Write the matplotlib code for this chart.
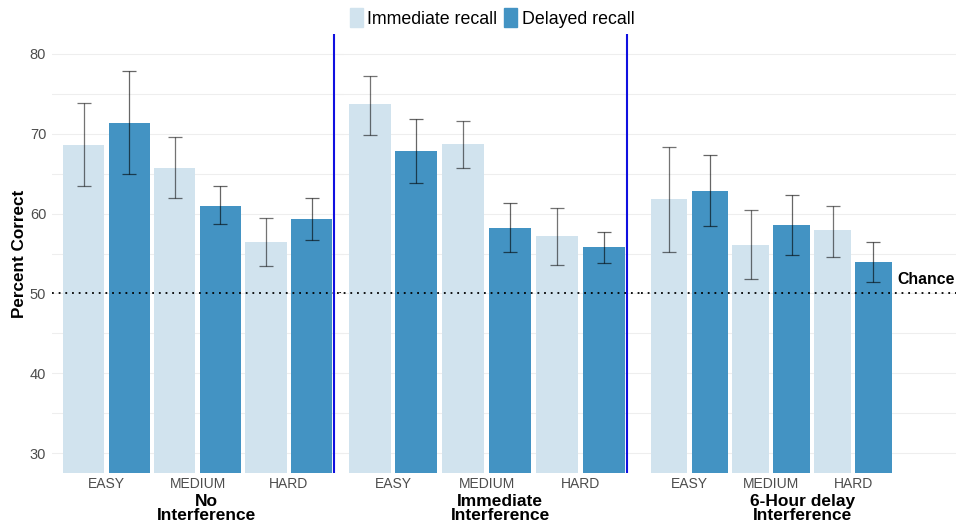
import numpy as np
import matplotlib
matplotlib.use('Agg')
import matplotlib.pyplot as plt
from matplotlib.patches import Patch

plt.rcParams['font.family'] = ['Liberation Sans', 'DejaVu Sans']

# data
levels = ['EASY', 'MEDIUM', 'HARD']
conditions = ['No\nInterference', 'Immediate\nInterference', '6-Hour delay\nInterference']
series_names = ['Immediate recall', 'Delayed recall']

immediate = [[68.6, 65.7, 56.4], [73.7, 68.7, 57.2], [61.8, 56.1, 57.9]]
immediate_lo = [[63.4, 61.9, 53.4], [69.85, 65.7, 53.5], [55.2, 51.8, 54.6]]
immediate_hi = [[73.8, 69.6, 59.4], [77.3, 71.6, 60.75], [68.3, 60.4, 61.0]]

delayed = [[71.4, 61.0, 59.3], [67.9, 58.2, 55.8], [62.8, 58.6, 53.9]]
delayed_lo = [[65.0, 58.7, 56.65], [63.8, 55.2, 53.85], [58.4, 54.85, 51.4]]
delayed_hi = [[77.9, 63.4, 61.9], [71.9, 61.3, 57.7], [67.3, 62.3, 56.4]]

chance = 50

light = '#d1e3ee'
dark = '#4393c3'
W, H = 956, 528

fig = plt.figure(figsize=(W / 100, H / 100), dpi=100)

# panel placement in pixels: left, width, right x-limit
panels = [(51.7, 291.8, 3.6), (336.8, 304.5, 3.653), (640.5, 315.5, 4.26)]
label_x = [206, 500, 803]

x = np.arange(1, len(levels) + 1)
axes = []
for i, (left, width, xmax) in enumerate(panels):
    ax = fig.add_axes([left / W, 55 / H, width / W, 439 / H])
    ax.set_facecolor('none')
    ax.set_xlim(0.4, xmax)
    ax.set_ylim(27.5, 82.5)

    imm = np.array(immediate[i])
    dly = np.array(delayed[i])
    ax.bar(x - 0.25, imm, 0.45, color=light, zorder=2)
    ax.bar(x + 0.25, dly, 0.45, color=dark, zorder=2)
    ax.errorbar(x - 0.25, imm, yerr=[imm - np.array(immediate_lo[i]), np.array(immediate_hi[i]) - imm],
                fmt='none', ecolor='black', alpha=0.55, elinewidth=0.9, capsize=4.8, capthick=0.9, zorder=3)
    ax.errorbar(x + 0.25, dly, yerr=[dly - np.array(delayed_lo[i]), np.array(delayed_hi[i]) - dly],
                fmt='none', ecolor='black', alpha=0.6, elinewidth=0.9, capsize=4.8, capthick=0.9, zorder=3)

    ax.axhline(chance, color='black', ls=(0, (1, 2.7)), lw=1.3, zorder=4)
    if i < 2:
        ax.axvline(3.5, color='#1010e0', lw=1.5, zorder=5)

    ax.set_yticks(range(30, 81, 10))
    ax.set_yticks(range(35, 80, 10), minor=True)
    ax.grid(axis='y', which='both', color='#eeeeee', lw=0.8, zorder=0)
    ax.set_axisbelow(True)
    ax.set_xticks(x)
    ax.set_xticklabels(levels, color='#4d4d4d', fontsize=10)
    ax.tick_params(axis='both', which='both', length=0)
    ax.tick_params(axis='x', pad=3)
    ax.tick_params(axis='y', pad=4, labelsize=10.5, labelcolor='#4d4d4d')
    if i > 0:
        ax.tick_params(labelleft=False)
    for s in ax.spines.values():
        s.set_visible(False)

    fig.text(label_x[i] / W, 1 - 508.5 / H, conditions[i], ha='center', va='center',
             fontweight='bold', fontsize=12.5, linespacing=0.98)
    axes.append(ax)

axes[2].text(3.894, 51.8, 'Chance', ha='center', va='center', fontweight='bold', fontsize=11.4)

fig.text(20 / W, 1 - 253.5 / H, 'Percent Correct', rotation=90, ha='center', va='center',
         fontweight='bold', fontsize=12.3)

fig.legend(handles=[Patch(color=light), Patch(color=dark)], labels=series_names,
           loc='center', bbox_to_anchor=(492 / W, 1 - 18 / H), ncol=2, frameon=False,
           fontsize=12.8, handlelength=0.75, handleheight=1.2, handletextpad=0.25,
           columnspacing=0.35)

fig.savefig('out.png', dpi=100)
